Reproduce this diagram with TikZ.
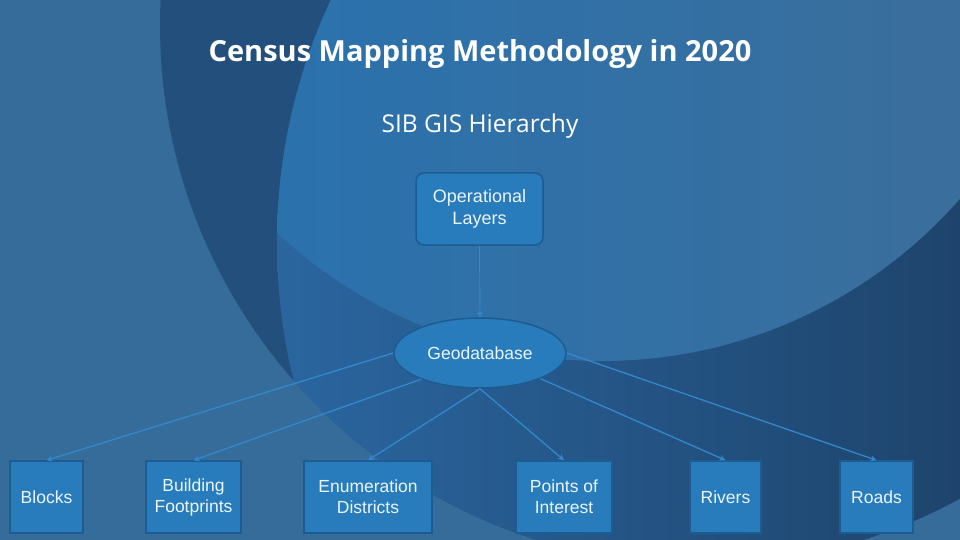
\documentclass[tikz,border=0pt]{standalone}
\usepackage{fontspec}
\setmainfont{Liberation Sans}
\newfontfamily\titlefont{Open Sans}
\usetikzlibrary{shapes.geometric,arrows.meta}
\definecolor{bgbase}{HTML}{356C9A}
\definecolor{darkband}{HTML}{234F7C}
\definecolor{midL}{HTML}{2B67A1}
\definecolor{midR}{HTML}{1E446C}
\definecolor{lightL}{HTML}{2A72AE}
\definecolor{lightR}{HTML}{3A6E9C}
\definecolor{boxfill}{HTML}{287CBC}
\definecolor{boxborder}{HTML}{1D5C90}
\definecolor{nodetext}{HTML}{EAF5FC}
\definecolor{connc}{HTML}{3288CC}
\tikzset{
  box/.style={draw=boxborder, fill=boxfill, line width=1.5pt, text=nodetext,
    font=\fontsize{17.5}{21}\selectfont, align=center, inner sep=0pt, minimum height=72pt},
  conn/.style={draw=connc, line width=1.3pt, -{Stealth[length=6pt,width=6pt]}},
}
\begin{document}
\begin{tikzpicture}[x=1pt,y=-1pt]
\useasboundingbox (0,0) rectangle (960,540);
\fill[bgbase] (0,0) rectangle (960,540);
\begin{scope}
  \clip (0,0) rectangle (960,540);
  \clip (700,25) circle (540pt);
  \fill[darkband] (0,0) rectangle (960,540);
  \clip (852,243) circle (575pt);
  \shade[left color=midL, right color=midR] (250,0) rectangle (960,540);
  \clip (602,-115) circle (476pt);
  \shade[left color=lightL, right color=lightR] (250,0) rectangle (960,540);
\end{scope}

\node[text=white, font=\titlefont\bfseries\fontsize{29}{32}\selectfont, anchor=base] (title) at (480,62) {Census Mapping Methodology in 2020};
\node[text=white, font=\titlefont\fontsize{24.5}{28}\selectfont, anchor=base] (sub) at (480,133) {SIB GIS Hierarchy};

\node[box, rounded corners=8pt, minimum width=127pt, font=\fontsize{18}{22}\selectfont] (ops) at (479.5,209) {Operational\\Layers};
\node[box, ellipse, minimum width=172pt, minimum height=70pt] (geo) at (480,353) {Geodatabase};

\node[box, minimum width=73pt] (blocks) at (46.5,497) {Blocks};
\node[box, minimum width=95pt] (build) at (193.5,497) {Building\\Footprints};
\node[box, minimum width=128pt] (enum) at (368,497) {Enumeration\\Districts};
\node[box, minimum width=96pt] (poi) at (564,497) {Points of\\Interest};
\node[box, minimum width=71pt] (rivers) at (725.5,497) {Rivers};
\node[box, minimum width=73pt] (roads) at (876.5,497) {Roads};

\draw[conn, line width=0.9pt] (ops.south) -- (geo.north);
\draw[conn] (geo.west) -- (blocks.north);
\draw[conn] (geo.204) -- (build.north);
\draw[conn] (geo.south) -- (enum.north);
\draw[conn] (geo.south) -- (poi.north);
\draw[conn] (geo.-23) -- (rivers.north);
\draw[conn] (geo.east) -- (roads.north);
\end{tikzpicture}
\end{document}
